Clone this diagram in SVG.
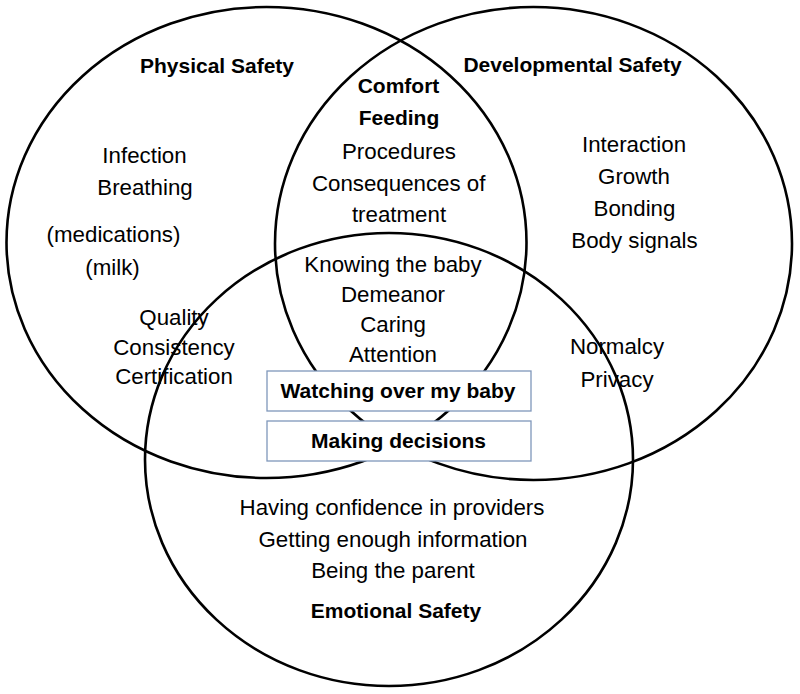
<svg xmlns="http://www.w3.org/2000/svg" width="800" height="694" viewBox="0 0 800 694">
<style>
.c{fill:none;stroke:#000;stroke-width:2.6}
.b{fill:#fff;stroke:#7f97bb;stroke-width:1.3}
text{font-family:"Liberation Sans",Arial,sans-serif;text-anchor:middle;fill:#000}
.r{font-size:22.3px}
.h{font-size:21px;font-weight:bold}
</style>
<rect width="800" height="694" fill="#fff"/>
<g id="circles">
<ellipse id="physical-circle" class="c" cx="266.5" cy="242.5" rx="260" ry="235.5"/>
<ellipse id="developmental-circle" class="c" cx="533.5" cy="243.5" rx="258.5" ry="236.5"/>
<ellipse id="emotional-circle" class="c" cx="389" cy="459.5" rx="244" ry="226.5"/>
</g>
<g id="physical-safety">
<text class="h" x="217" y="73">Physical Safety</text>
<text class="r" x="144.5" y="162.5">Infection</text>
<text class="r" x="145" y="195">Breathing</text>
<text class="r" x="113.5" y="241.5">(medications)</text>
<text class="r" x="112.5" y="275">(milk)</text>
<text class="r" x="174" y="325">Quality</text>
<text class="r" x="174" y="355">Consistency</text>
<text class="r" x="174" y="384">Certification</text>
</g>
<g id="developmental-safety">
<text class="h" x="572.5" y="71.5">Developmental Safety</text>
<text class="r" x="634" y="151.5">Interaction</text>
<text class="r" x="634" y="183.5">Growth</text>
<text class="r" x="634.5" y="216">Bonding</text>
<text class="r" x="634.5" y="247.5">Body signals</text>
<text class="r" x="617" y="354">Normalcy</text>
<text class="r" x="617" y="386.5">Privacy</text>
</g>
<g id="physical-developmental-overlap">
<text class="h" x="398.5" y="93.3">Comfort</text>
<text class="h" x="399" y="125">Feeding</text>
<text class="r" x="399" y="159">Procedures</text>
<text class="r" x="398.7" y="190.7">Consequences of</text>
<text class="r" x="399" y="221.7">treatment</text>
</g>
<g id="center-overlap">
<text class="r" x="393" y="271.7">Knowing the baby</text>
<text class="r" x="393" y="301.7">Demeanor</text>
<text class="r" x="393" y="331.7">Caring</text>
<text class="r" x="393" y="361.7">Attention</text>
</g>
<g id="watching-over-my-baby">
<rect class="b" x="267" y="371" width="264" height="40"/>
<text class="h" x="398" y="398.3">Watching over my baby</text>
</g>
<g id="making-decisions">
<rect class="b" x="267" y="421" width="264" height="40"/>
<text class="h" x="398.5" y="448.3">Making decisions</text>
</g>
<g id="emotional-safety">
<text class="r" x="392" y="515">Having confidence in providers</text>
<text class="r" x="393" y="546.7">Getting enough information</text>
<text class="r" x="393" y="578">Being the parent</text>
<text class="h" x="396" y="618">Emotional Safety</text>
</g>
</svg>
